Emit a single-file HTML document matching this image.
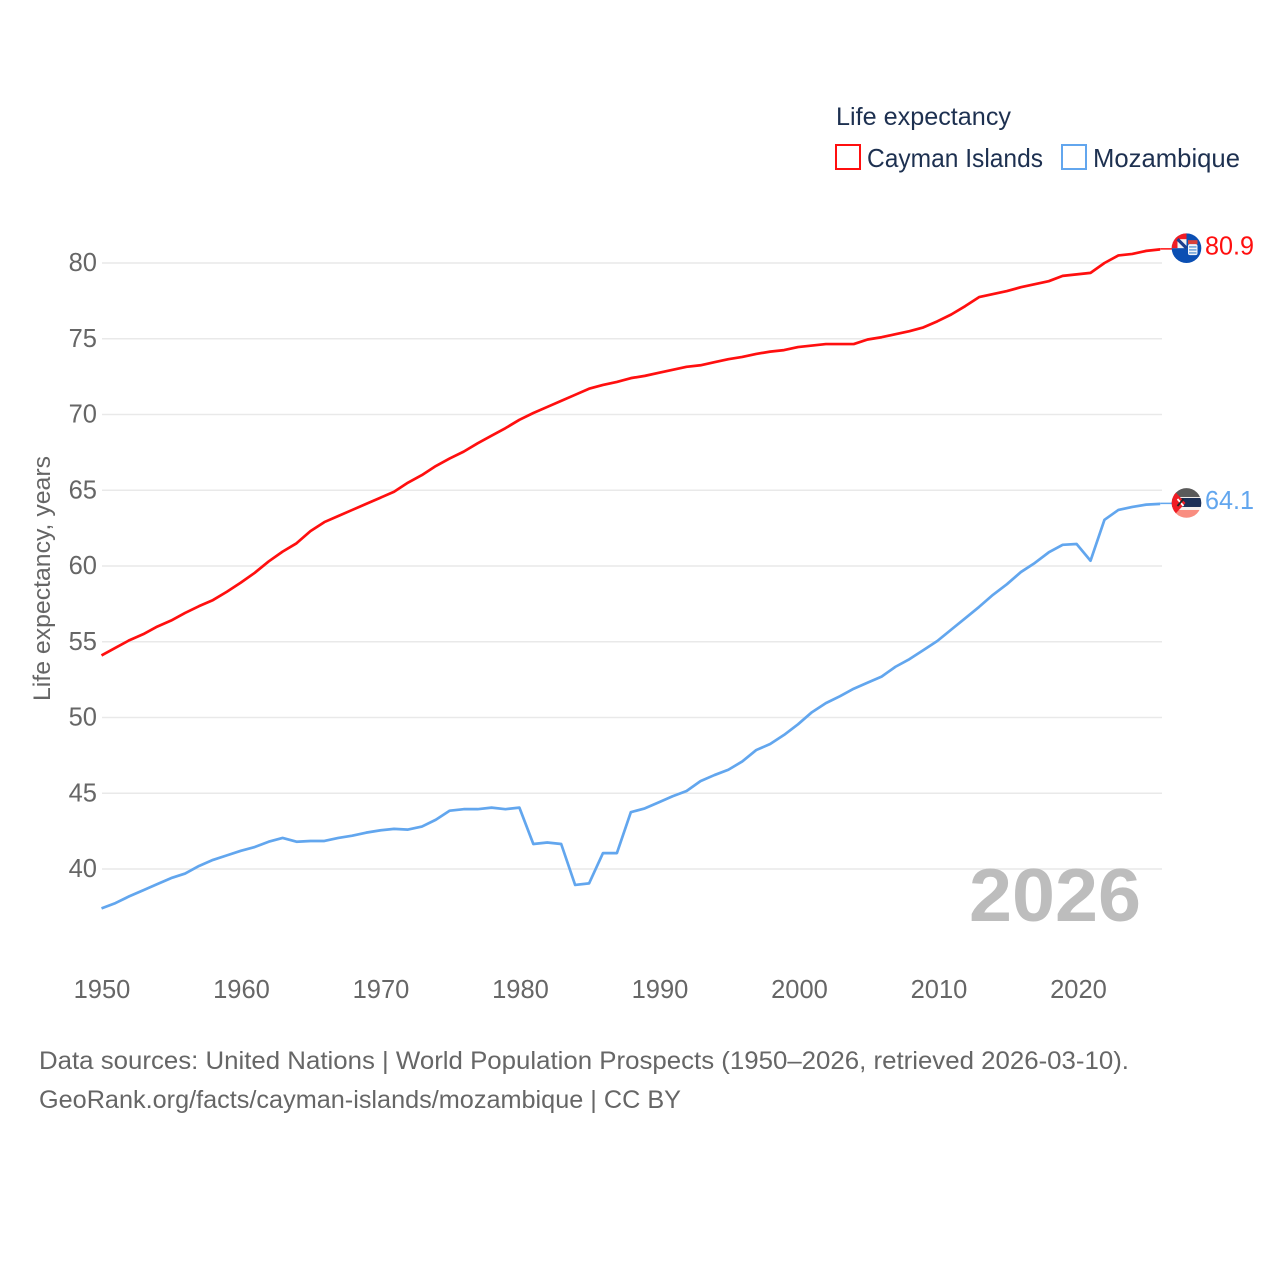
<!DOCTYPE html>
<html lang="en">
<head>
<meta charset="utf-8">
<title>Life expectancy: Cayman Islands vs Mozambique</title>
<style>
html,body{margin:0;padding:0;background:#fff}
svg{display:block}
text{font-family:"Liberation Sans",sans-serif}
</style>
</head>
<body>
<svg id="chart" xmlns="http://www.w3.org/2000/svg" width="1280" height="1280" viewBox="0 0 1280 1280">
  <defs>
    <clipPath id="clip-flag"><circle cx="0" cy="0" r="14.8"/></clipPath>
  </defs>
  <rect x="0" y="0" width="1280" height="1280" fill="#ffffff"/>
  <g id="grid"></g>
  <g id="yticks"></g>
  <g id="xticks"></g>
  <text transform="translate(50,701) rotate(-90)" font-size="24" fill="#666666" textLength="245" lengthAdjust="spacingAndGlyphs">Life expectancy, years</text>
  <text x="969" y="921" font-size="75" font-weight="700" fill="#bdbdbd" textLength="172" lengthAdjust="spacingAndGlyphs">2026</text>
  <g id="series"></g>
  <g id="ends"></g>
  <g>
    <text x="836" y="125" font-size="25" fill="#1d3050" textLength="175" lengthAdjust="spacingAndGlyphs">Life expectancy</text>
    <g>
      <rect x="836" y="145" width="24" height="24" fill="#ffffff" stroke="#ff0f0f" stroke-width="2"/>
      <text x="867" y="167" font-size="26" fill="#1d3050" textLength="176" lengthAdjust="spacingAndGlyphs">Cayman Islands</text>
    </g>
    <g>
      <rect x="1062" y="145" width="24" height="24" fill="#ffffff" stroke="#62a6ee" stroke-width="2"/>
      <text x="1093" y="167" font-size="26" fill="#1d3050" textLength="147" lengthAdjust="spacingAndGlyphs">Mozambique</text>
    </g>
  </g>
  <g>
    <text x="39" y="1069" font-size="25" fill="#666666" textLength="1090" lengthAdjust="spacingAndGlyphs">Data sources: United Nations | World Population Prospects (1950–2026, retrieved 2026-03-10).</text>
    <text x="39" y="1108" font-size="25" fill="#666666" textLength="642" lengthAdjust="spacingAndGlyphs">GeoRank.org/facts/cayman-islands/mozambique | CC BY</text>
  </g>
</svg>
<script>
var years = [1950,1951,1952,1953,1954,1955,1956,1957,1958,1959,1960,1961,1962,1963,1964,1965,1966,1967,1968,1969,1970,1971,1972,1973,1974,1975,1976,1977,1978,1979,1980,1981,1982,1983,1984,1985,1986,1987,1988,1989,1990,1991,1992,1993,1994,1995,1996,1997,1998,1999,2000,2001,2002,2003,2004,2005,2006,2007,2008,2009,2010,2011,2012,2013,2014,2015,2016,2017,2018,2019,2020,2021,2022,2023,2024,2025,2026];
var caymanValues = [54.1,54.6,55.1,55.5,56.0,56.4,56.9,57.35,57.75,58.3,58.9,59.55,60.3,60.95,61.5,62.3,62.9,63.3,63.7,64.1,64.5,64.9,65.5,66.0,66.6,67.1,67.55,68.1,68.6,69.1,69.65,70.1,70.5,70.9,71.3,71.7,71.95,72.15,72.4,72.55,72.75,72.95,73.15,73.25,73.45,73.65,73.8,74.0,74.15,74.25,74.45,74.55,74.65,74.65,74.65,74.95,75.1,75.3,75.5,75.75,76.15,76.6,77.15,77.75,77.95,78.15,78.4,78.6,78.8,79.15,79.25,79.35,80.0,80.5,80.6,80.8,80.9];
var mozambiqueValues = [37.4,37.75,38.2,38.6,39.0,39.4,39.7,40.2,40.6,40.9,41.2,41.45,41.8,42.05,41.8,41.85,41.85,42.05,42.2,42.4,42.55,42.65,42.6,42.8,43.25,43.85,43.95,43.95,44.05,43.95,44.05,41.65,41.75,41.65,38.95,39.05,41.05,41.05,43.75,44.0,44.4,44.8,45.15,45.8,46.2,46.55,47.1,47.85,48.25,48.85,49.55,50.35,50.95,51.4,51.9,52.3,52.7,53.35,53.85,54.45,55.05,55.8,56.55,57.3,58.1,58.8,59.6,60.2,60.9,61.4,61.45,60.35,63.05,63.7,63.9,64.05,64.1];
var yTickLabels = [40,45,50,55,60,65,70,75,80];
var xTickLabels = [1950,1960,1970,1980,1990,2000,2010,2020];
var caymanEndLabel = "80.9";
var mozambiqueEndLabel = "64.1";

var NS = "http://www.w3.org/2000/svg";
function xScale(year) { return 101.5 + (year - 1950) * 13.93; }
function xLabelScale(year) { return 102 + (year - 1950) * 13.95; }
function yScale(value) { return 263 + (80 - value) * 15.15; }
function make(tag, attrs, parent) {
  var el = document.createElementNS(NS, tag);
  for (var k in attrs) { el.setAttribute(k, attrs[k]); }
  parent.appendChild(el);
  return el;
}

var gridG = document.getElementById("grid");
var yG = document.getElementById("yticks");
var xG = document.getElementById("xticks");
var seriesG = document.getElementById("series");
var endsG = document.getElementById("ends");

yTickLabels.forEach(function (v) {
  var line = make("line", {x1: 102, x2: 1162, y1: yScale(v), y2: yScale(v), stroke: "#e9e9e9", "stroke-width": 1.6}, gridG);
  
  
  var t = make("text", {x: 97, y: yScale(v) + 8, "font-size": 25.5, fill: "#666666", "text-anchor": "end"}, yG);
  
  
  t.textContent = v;
});

xTickLabels.forEach(function (yr) {
  var t = make("text", {x: xLabelScale(yr), y: 998, "font-size": 25.5, fill: "#666666", "text-anchor": "middle"}, xG);
  
  
  t.textContent = yr;
});

function linePoints(values) {
  return values.map(function (v, i) {
    return xScale(years[i]).toFixed(2) + "," + yScale(v).toFixed(2);
  }).join(" ");
}

var caymanLine = make("polyline", {points: linePoints(caymanValues), fill: "none", stroke: "#ff0f0f", "stroke-width": 2.7, "stroke-linejoin": "round"}, seriesG);


var mozLine = make("polyline", {points: linePoints(mozambiqueValues), fill: "none", stroke: "#62a6ee", "stroke-width": 2.7, "stroke-linejoin": "round"}, seriesG);



var flagX = 1186.5;
var lastYear = years[years.length - 1];
var caymanY = yScale(caymanValues[caymanValues.length - 1]);
var mozY = yScale(mozambiqueValues[mozambiqueValues.length - 1]);

var c1 = make("line", {x1: xScale(lastYear), x2: flagX, y1: caymanY - 0.5, y2: caymanY - 0.5, stroke: "#ff0f0f", "stroke-width": 1.6}, endsG);


var c2 = make("line", {x1: xScale(lastYear), x2: flagX, y1: mozY - 0.5, y2: mozY - 0.5, stroke: "#62a6ee", "stroke-width": 1.6}, endsG);



/* Cayman Islands flag */
var f1 = make("g", {transform: "translate(" + flagX + "," + (caymanY - 1.2) + ")", "clip-path": "url(#clip-flag)"}, endsG);


make("rect", {x: -15, y: -15, width: 30, height: 30, fill: "#0b4fb3"}, f1);
make("rect", {x: -15, y: -15, width: 15, height: 15, fill: "#f2f2f6"}, f1);
make("rect", {x: -15, y: -15, width: 15, height: 6, fill: "#f01c24"}, f1);
make("rect", {x: -15, y: -15, width: 6, height: 15, fill: "#f01c24"}, f1);
make("line", {x1: -9, y1: -9, x2: 0, y2: 0, stroke: "#1c3f8f", "stroke-width": 3.2}, f1);
make("rect", {x: 1.5, y: -8, width: 9.5, height: 4, fill: "#d8403a"}, f1);
make("rect", {x: 1.5, y: -4, width: 9.5, height: 11, rx: 2, fill: "#f2f4f8"}, f1);
make("rect", {x: 2.5, y: -2, width: 7.5, height: 1.5, fill: "#6aa0d8"}, f1);
make("rect", {x: 2.5, y: 1, width: 7.5, height: 1.5, fill: "#6aa0d8"}, f1);
make("rect", {x: 2.5, y: 4, width: 7.5, height: 1.5, fill: "#6aa0d8"}, f1);

/* Mozambique flag */
var f2 = make("g", {transform: "translate(" + flagX + "," + (mozY - 0.9) + ")", "clip-path": "url(#clip-flag)"}, endsG);


make("rect", {x: -15, y: -15, width: 30, height: 30, fill: "#f4f0ec"}, f2);
make("rect", {x: -15, y: -15, width: 30, height: 9, fill: "#5a5a5a"}, f2);
make("rect", {x: -15, y: -5, width: 30, height: 9, fill: "#1b2f55"}, f2);
make("rect", {x: -15, y: 7, width: 30, height: 8, fill: "#f98d80"}, f2);
make("polygon", {points: "-15,-15 -15,15 -1,0", fill: "#f01c24"}, f2);
make("line", {x1: -9, y1: -4, x2: -3, y2: 3, stroke: "#ffffff", "stroke-width": 1.8}, f2);
make("line", {x1: -3, y1: -4, x2: -9, y2: 3, stroke: "#222222", "stroke-width": 1.8}, f2);

var l1 = make("text", {x: 1205, y: caymanY + 5, "font-size": 25.5, fill: "#ff0f0f", textLength: 49, lengthAdjust: "spacingAndGlyphs"}, endsG);


l1.textContent = caymanEndLabel;
var l2 = make("text", {x: 1205, y: mozY + 5, "font-size": 25.5, fill: "#62a6ee", textLength: 49, lengthAdjust: "spacingAndGlyphs"}, endsG);


l2.textContent = mozambiqueEndLabel;
</script>
</body>
</html>
